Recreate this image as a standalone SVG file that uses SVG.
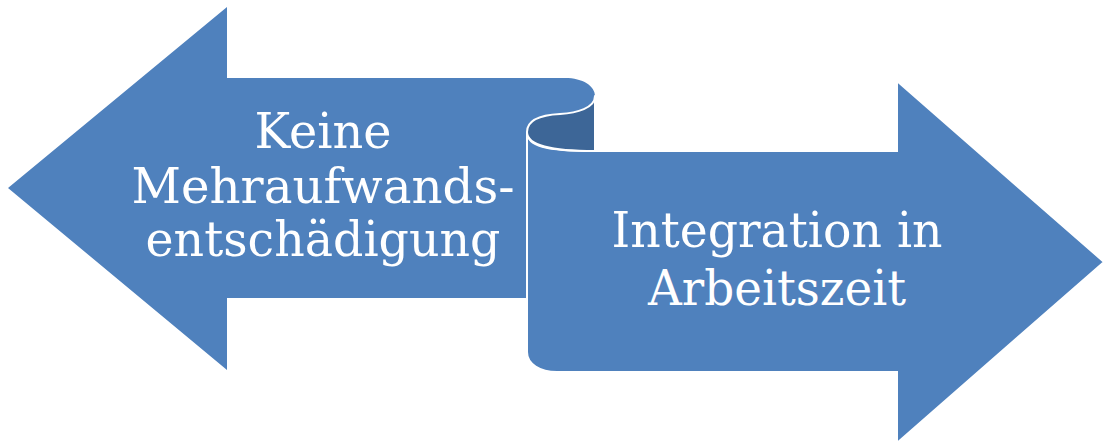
<svg xmlns="http://www.w3.org/2000/svg" width="1105" height="444" viewBox="0 0 1105 444">
<style>
.shape{fill:#4F81BD}
.dark{fill:#3D6697;stroke:#FFFFFF;stroke-width:2;stroke-linejoin:round}
.lbl{font-family:"DejaVu Serif","Liberation Serif",serif;font-size:49px;fill:#FFFFFF;text-anchor:middle}
</style>
<rect width="1105" height="444" fill="#FFFFFF"/>
<g id="node-left">
<path class="shape" d="M8,188 L227,7 L227,78 L565,78 C583,78 595,86 595,96 C595,108 577,113 560,114 C540,115 527,120 527,132 L527,298 L227,298 L227,370 Z"/>
<text class="lbl" x="323" y="148" textLength="137" lengthAdjust="spacingAndGlyphs">Keine</text>
<text class="lbl" x="323" y="203" textLength="383" lengthAdjust="spacingAndGlyphs">Mehraufwands-</text>
<text class="lbl" x="323" y="256" textLength="355" lengthAdjust="spacingAndGlyphs">entschädigung</text>
</g>
<g id="node-right">
<path class="shape" d="M527,132 C527,146 545,151 595,151 L897,151 L897,81 L1104,262 L897,443 L897,372 L557,372 C540,372 527,364 527,352 Z" stroke="#FFFFFF" stroke-width="2"/>
<path class="dark" d="M527,132 C527,120 540,115 560,114 C577,113 595,108 595,96 L595,151 C560,151 527,148 527,132 Z"/>
<text class="lbl" x="777" y="247" textLength="331" lengthAdjust="spacingAndGlyphs">Integration in</text>
<text class="lbl" x="777" y="305" textLength="258" lengthAdjust="spacingAndGlyphs">Arbeitszeit</text>
</g>
<g id="connectors"/>
</svg>
